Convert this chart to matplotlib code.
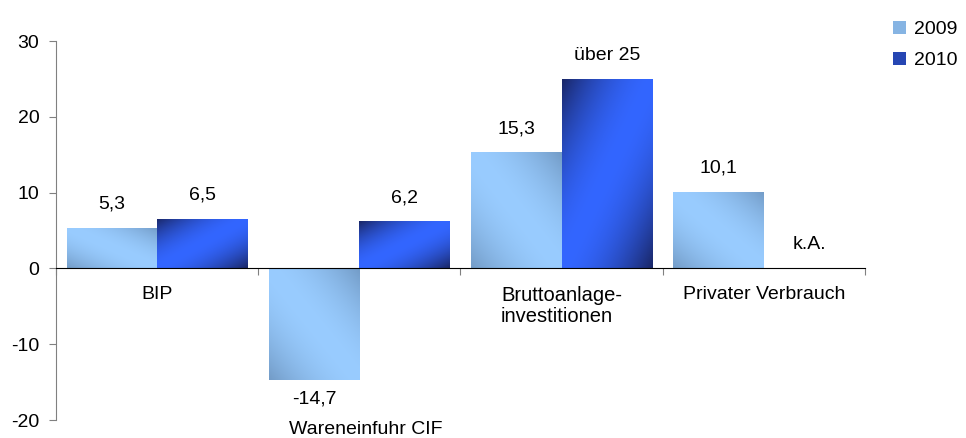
import numpy as np
import matplotlib.pyplot as plt
from matplotlib.patches import Patch

# data
categories = ['BIP', 'Wareneinfuhr CIF', 'Bruttoanlage-\ninvestitionen', 'Privater Verbrauch']
values_2009 = [5.3, -14.7, 15.3, 10.1]
values_2010 = [6.5, 6.2, 25.0, 0.0]
labels_2009 = ['5,3', '-14,7', '15,3', '10,1']
labels_2010 = ['6,5', '6,2', 'über 25', 'k.A.']
series_names = ['2009', '2010']
y_ticks = [-20, -10, 0, 10, 20, 30]

plt.rcParams['font.family'] = ['Liberation Sans', 'DejaVu Sans']

light_2009, dark_2009 = np.array([0.60, 0.80, 1.00]), np.array([0.45, 0.61, 0.78])
light_2010, dark_2010 = np.array([0.20, 0.40, 1.00]), np.array([0.10, 0.15, 0.40])


def gradient(light, dark, kind, n=120):
    X, Y = np.meshgrid(np.linspace(0, 1, n), np.linspace(0, 1, n))
    if kind == 'a':
        s = np.abs(X + Y - 1)
    else:
        s = np.abs(X - Y)
    s = s ** 1.8
    return light * (1 - s[..., None]) + dark * s[..., None]


def fill_gradient(ax, bars, light, dark, kind):
    img = gradient(light, dark, kind)
    for b in bars:
        if b.get_height() == 0:
            continue
        x0, y0 = b.get_x(), b.get_y()
        x1, y1 = x0 + b.get_width(), y0 + b.get_height()
        im = ax.imshow(img, extent=[x0, x1, min(y0, y1), max(y0, y1)], origin='lower',
                       aspect='auto', zorder=2, interpolation='bilinear')
        im.set_clip_path(b)


fig = plt.figure(figsize=(9.66, 4.38), dpi=100)
ax = fig.add_axes([0.058, 0.041, 0.8374, 0.8653])

x = np.arange(len(categories))
w = 0.448
bars1 = ax.bar(x - w / 2, values_2009, w, facecolor='none', edgecolor='none', zorder=2)
bars2 = ax.bar(x + w / 2, values_2010, w, facecolor='none', edgecolor='none', zorder=2)
fill_gradient(ax, bars1, light_2009, dark_2009, 'a')
fill_gradient(ax, bars2, light_2010, dark_2010, 'b')

ax.set_xlim(-0.5, len(categories) - 0.5)
ax.set_ylim(-20, 30)
ax.set_yticks(y_ticks)
ax.set_yticklabels([str(t) for t in y_ticks], fontsize=14)
ax.tick_params(axis='y', direction='out', length=5, color='#808080', pad=7)

ax.spines['top'].set_visible(False)
ax.spines['right'].set_visible(False)
ax.spines['left'].set_color('#808080')
ax.spines['bottom'].set_position(('data', 0))
ax.spines['bottom'].set_color('black')
ax.spines['bottom'].set_zorder(3)
ax.set_xticks(np.arange(-0.5, len(categories), 1.0))
ax.set_xticklabels([])
ax.tick_params(axis='x', direction='out', length=5, color='#808080')

# value labels
for bars, labels in ((bars1, labels_2009), (bars2, labels_2010)):
    for b, lab in zip(bars, labels):
        h = b.get_height()
        cx = b.get_x() + b.get_width() / 2
        if h >= 0:
            ax.annotate(lab, (cx, h), xytext=(0, 11), textcoords='offset points',
                        ha='center', va='bottom', fontsize=14)
        else:
            ax.annotate(lab, (cx, h), xytext=(0, -8), textcoords='offset points',
                        ha='center', va='top', fontsize=14)

# category labels
cat_y = [-3.4, -21.3, -2.3, -3.4]
cat_dx = [0, 0.03, 0, 0]
for i, (cat, cy) in enumerate(zip(categories, cat_y)):
    ax.text(i + cat_dx[i], cy, cat, ha='center', va='top' if '\n' in cat else 'center',
            fontsize=14 if '\n' not in cat else 14.5, multialignment='left',
            linespacing=1.15, clip_on=False)

handles = [Patch(facecolor=(light_2009 + dark_2009) / 2), Patch(facecolor=(light_2010 + dark_2010) / 2)]
fig.legend(handles, series_names, loc='upper left', bbox_to_anchor=(0.906, 0.993),
           frameon=False, fontsize=14, handlelength=0.7, handleheight=0.7,
           handletextpad=0.4, labelspacing=0.7)

fig.savefig('out.png', dpi=100)
